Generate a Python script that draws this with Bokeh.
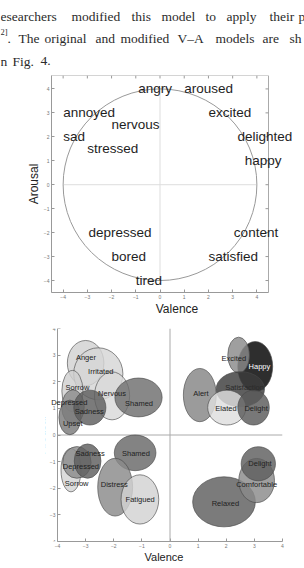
from bokeh.plotting import figure
from bokeh.models import Span, FixedTicker, Range1d, ColumnDataSource, Label
from bokeh.core.properties import value
from bokeh.embed import file_html
from bokeh.resources import INLINE

# ---------------- paragraph text (cut-off page excerpt) ----------------
line1_words = ["esearchers", "modified", "this", "model", "to", "apply", "their", "p"]
line2_words = [".", "The", "original", "and", "modified", "V\u2013A", "models", "are", "sh"]
line3_words = ["n", "Fig.", "4."]
superscript = "2]"

# ---------------- chart 1: original V-A model ----------------
ticks = [-4, -3, -2, -1, 0, 1, 2, 3, 4]
circle_radius = 4
words = ["angry", "aroused", "excited", "delighted", "happy", "annoyed", "nervous",
         "sad", "stressed", "depressed", "bored", "tired", "content", "satisfied"]
word_valence = [-0.9, 1.0, 2.0, 3.2, 3.5, -4.0, -2.0, -4.0, -3.0, -2.95, -2.0, -1.0, 3.05, 2.0]
word_arousal = [4.0, 4.0, 3.0, 2.0, 1.0, 3.0, 2.5, 2.0, 1.5, -2.0, -3.0, -4.0, -2.0, -3.0]

# ---------------- chart 2: modified V-A model (ellipses) ----------------
emotions = ["Anger", "Irritated", "Nervous", "Sorrow", "Shamed", "Depressed", "Upset", "Sadness",
            "Happy", "Excited", "Satisfaction", "Alert", "Elated", "Delight",
            "Sorrow", "Depressed", "Sadness", "Shamed", "Distress", "Fatigued",
            "Relaxed", "Comfortable", "Delight"]
center_valence = [-3.0, -2.55, -2.06, -3.47, -1.12, -3.45, -3.56, -2.85,
                  3.03, 2.44, 2.5, 1.06, 2.02, 2.97,
                  -3.52, -3.31, -2.93, -1.24, -1.95, -1.07,
                  1.92, 3.08, 3.14]
center_arousal = [2.7, 2.3, 1.47, 1.65, 1.41, 1.05, 0.66, 1.03,
                  2.57, 3.0, 1.72, 1.5, 1.03, 1.03,
                  -1.32, -1.03, -0.98, -0.67, -1.96, -2.42,
                  -2.51, -1.71, -1.08]
spread_valence = [1.3, 1.75, 1.25, 0.75, 1.68, 0.8, 0.78, 1.14,
                  1.24, 0.77, 1.72, 1.17, 1.36, 1.12,
                  0.71, 1.01, 0.95, 1.48, 1.24, 1.34,
                  2.23, 1.27, 1.22]
spread_arousal = [1.7, 1.95, 1.8, 1.55, 1.46, 1.3, 1.3, 1.31,
                  1.88, 1.35, 1.32, 2.0, 1.31, 1.31,
                  1.63, 1.19, 1.29, 1.34, 2.17, 1.85,
                  1.88, 1.66, 1.28]
shade = ["#d2d2d2", "#d6d6d6", "#d9d9d9", "#d0d0d0", "#6e6e6e", "#8c8c8c", "#7a7a7a", "#5e5e5e",
         "#000000", "#8a8a8a", "#3c3c3c", "#858585", "#dedede", "#5a5a5a",
         "#d4d4d4", "#8a8a8a", "#5e5e5e", "#686868", "#8a8a8a", "#d2d2d2",
         "#5e5e5e", "#8a8a8a", "#5e5e5e"]
label_valence = [-2.99, -2.46, -2.06, -3.29, -1.1, -3.58, -3.46, -2.87,
                 3.18, 2.27, 2.65, 1.1, 1.99, 3.06,
                 -3.32, -3.17, -2.84, -1.21, -1.98, -1.06,
                 1.97, 3.08, 3.2]
label_arousal = [2.9, 2.38, 1.57, 1.78, 1.17, 1.23, 0.42, 0.9,
                 2.57, 2.88, 1.78, 1.57, 1.0, 0.98,
                 -1.82, -1.17, -0.71, -0.71, -1.85, -2.44,
                 -2.57, -1.85, -1.06]
label_color = ["#222222"] * len(emotions)
label_color[8] = "#ffffff"
label_color[10] = "#2a2a2a"

SANS = "Liberation Sans"
SERIF = "Liberation Serif"

# =============== paragraph figure ===============
TOP_H = 70
p0 = figure(width=304, height=TOP_H, x_range=Range1d(0, 304), y_range=Range1d(TOP_H, 0),
            x_axis_type=None, y_axis_type=None, output_backend="svg",
            toolbar_location=None, min_border=0)
p0.grid.visible = False
p0.outline_line_color = None
l1x = [0, 71, 131, 161, 205, 226, 269, 298]
l2x = [7, 18, 44, 95, 120, 177, 215, 262, 289]
l3x = [0, 12, 40]
tx = l1x + l2x + l3x
ty = [15.5] * len(l1x) + [38] * len(l2x) + [60.5] * len(l3x)
p0.text(x=tx, y=ty, text=line1_words + line2_words + line3_words,
        text_font=value(SERIF), text_font_size="13.5px", text_color="#2b2b2b",
        text_baseline="alphabetic", text_align="left")
p0.text(x=[0], y=[31], text=[superscript], text_font=value(SERIF),
        text_font_size="8.5px", text_color="#2b2b2b", text_baseline="alphabetic")


def style_axis(ax, label, size):
    ax.ticker = FixedTicker(ticks=ticks)
    ax.major_tick_in = 3
    ax.major_tick_out = 0
    ax.minor_tick_line_color = None
    ax.axis_line_color = "#999999"
    ax.major_tick_line_color = "#999999"
    ax.major_label_text_font = SANS
    ax.major_label_text_font_size = "5px"
    ax.major_label_text_color = "#777777"
    ax.major_label_standoff = 2
    ax.axis_label = label
    ax.axis_label_text_font = SANS
    ax.axis_label_text_font_size = size
    ax.axis_label_text_font_style = "normal"
    ax.axis_label_text_color = "#222222"
    ax.axis_label_standoff = 0


# =============== chart 1 ===============
X1 = (-4.48, 4.48)          # the boxed axes area
Y1 = (-4.5, 4.56)
PX1 = 24.22                 # pixels per unit in chart 1
p1 = figure(width=304, height=318 - TOP_H,
            x_range=Range1d(X1[0], X1[1] + 34 / PX1), y_range=Range1d(*Y1),
            output_backend="svg", toolbar_location=None,
            min_border_left=51, min_border_right=2, min_border_top=75 - TOP_H,
            min_border_bottom=25)
p1.grid.visible = False
p1.outline_line_color = None
style_axis(p1.xaxis[0], "Valence", "12px")
style_axis(p1.yaxis[0], "Arousal", "12px")
p1.xaxis[0].bounds = X1
p1.quad(left=[X1[0]], right=[X1[1]], bottom=[Y1[0]], top=[Y1[1]],
        fill_color=None, line_color="#aaaaaa", line_width=1)
tick_len = 3 / PX1
p1.segment(x0=ticks, x1=ticks, y0=[Y1[1]] * len(ticks), y1=[Y1[1] - tick_len] * len(ticks),
           line_color="#999999", line_width=1)
p1.segment(x0=[X1[1]] * len(ticks), x1=[X1[1] - tick_len] * len(ticks), y0=ticks, y1=ticks,
           line_color="#999999", line_width=1)

zero_line = [-circle_radius, circle_radius]
p1.line(x=zero_line, y=[0, 0], line_color="#dddddd", line_width=1)
p1.line(x=[0, 0], y=zero_line, line_color="#dddddd", line_width=1)
p1.ellipse(x=[0], y=[0], width=[2 * circle_radius], height=[2 * circle_radius],
           fill_color=None, line_color="#999999", line_width=1)
for wx, wy, wt in zip(word_valence, word_arousal, words):
    p1.add_layout(Label(x=wx, y=wy, text=wt, text_font=SANS, text_font_size="13.5px",
                        text_color="#1e1e1e", text_baseline="middle", text_align="left"))

# =============== chart 2 ===============
PX2 = 28.125
p2 = figure(width=304, height=250, x_range=Range1d(ticks[0] - 12 / PX2, ticks[-1]),
            y_range=Range1d(ticks[0], ticks[-1]),
            output_backend="svg", toolbar_location=None,
            min_border_left=45, min_border_right=22, min_border_top=10, min_border_bottom=27)
p2.grid.visible = False
p2.outline_line_color = None
style_axis(p2.xaxis[0], "Valence", "11px")
style_axis(p2.yaxis[0], "Arousal", "11px")
p2.xaxis[0].bounds = (ticks[0], ticks[-1])
p2.yaxis[0].fixed_location = ticks[0]
p2.line(x=[ticks[0], ticks[-1]], y=[0, 0], line_color="#aaaaaa", line_width=1)
p2.add_layout(Span(location=0, dimension="height", line_color="#aaaaaa", line_width=1))

esrc = ColumnDataSource(dict(x=center_valence, y=center_arousal, w=spread_valence,
                             h=spread_arousal, c=shade))
p2.ellipse(x="x", y="y", width="w", height="h", fill_color="c", fill_alpha=0.82,
           line_color="#4a4a4a", line_width=0.8, line_alpha=0.8, source=esrc)
for lx, ly, lt, lc in zip(label_valence, label_arousal, emotions, label_color):
    p2.add_layout(Label(x=lx, y=ly, text=lt, text_font=SANS, text_font_size="7.5px",
                        text_color=lc, text_baseline="middle", text_align="center"))

open("out.html", "w").write(file_html([p0, p1, p2], INLINE))
